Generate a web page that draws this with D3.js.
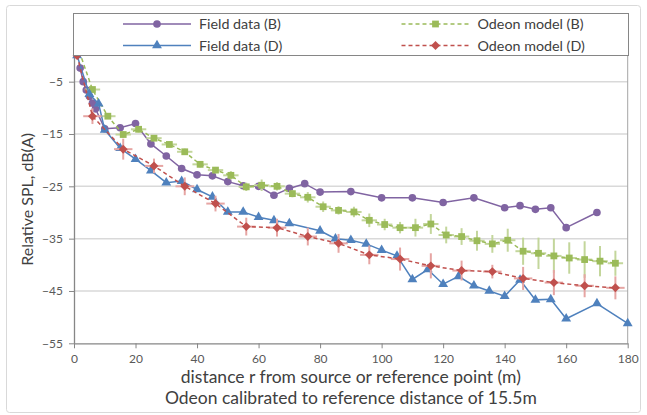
<!DOCTYPE html>
<html lang="en">
<head>
  <meta charset="UTF-8">
  <title>Relative SPL vs distance</title>
  <script src="https://d3js.org/d3.v7.min.js"></script>
  <style type="text/css">
    body { margin: 0; background: #fff; }
    text { font-family: Lato, "Open Sans", sans-serif; }
  </style>
</head>
<body>
<svg id="grafico"></svg>

<script>
  // Data (x = distance in m, y = relative SPL in dB(A))
  const fieldB_x = [2, 3, 4, 5, 6, 7, 10, 15, 20, 25, 30, 35, 40, 45, 50, 55, 60, 65, 70, 75, 80, 90, 100, 110, 120, 130, 140, 145, 150, 155, 160, 170];
  const fieldB_y = [-2.4, -5.0, -6.6, -7.8, -9.1, -10.2, -14.0, -13.8, -13.0, -16.9, -19.2, -21.6, -22.8, -23.0, -24.1, -24.9, -25.0, -26.7, -25.4, -24.5, -26.1, -26.0, -27.2, -27.2, -28.1, -27.2, -29.1, -28.7, -29.4, -29.1, -32.9, -30.0];

  const fieldD_x = [1, 5, 8, 10, 15, 20, 25, 30, 35, 40, 45, 50, 55, 60, 65, 70, 80, 85, 90, 95, 100, 105, 110, 115, 120, 125, 130, 135, 140, 145, 150, 155, 160, 170, 180];
  const fieldD_y = [0, -7.4, -9.2, -14.2, -17.7, -19.8, -22.0, -24.3, -24.0, -25.6, -27.0, -29.9, -29.9, -30.9, -31.5, -32.1, -33.5, -35.0, -35.3, -36.0, -37.2, -38.3, -42.8, -40.9, -43.7, -42.2, -44.0, -45.0, -46.0, -42.9, -46.7, -46.6, -50.3, -47.4, -51.2];

  const odeonB_x = [1, 6, 11, 16, 21, 26, 31, 36, 41, 46, 51, 56, 61, 66, 71, 76, 81, 86, 91, 96, 101, 106, 111, 116, 121, 126, 131, 136, 141, 146, 151, 156, 161, 166, 171, 176];
  const odeonB_y = [2, -6.5, -11.6, -15.1, -14.1, -15.8, -17.0, -18.4, -20.8, -21.9, -22.9, -25.1, -24.8, -25.0, -26.4, -27.1, -28.9, -29.6, -29.9, -31.5, -32.3, -32.9, -32.9, -32.2, -34.3, -34.6, -35.4, -36.0, -35.3, -37.4, -37.8, -38.3, -38.7, -39.0, -39.3, -39.7];
  const odeonB_err = [0, 0.5, 0.5, 0.6, 0.6, 0.6, 0.6, 0.6, 0.6, 0.6, 0.8, 0.8, 1.1, 0.8, 0.7, 1.0, 1.0, 0.8, 1.0, 1.3, 1.1, 1.1, 1.7, 1.9, 1.6, 1.6, 1.9, 1.7, 2.2, 2.6, 3.0, 3.3, 3.0, 3.5, 2.9, 2.4];

  const odeonD_x = [1, 6, 16, 26, 36, 46, 56, 66, 76, 86, 96, 106, 116, 126, 136, 146, 156, 166, 176];
  const odeonD_y = [0, -11.6, -17.9, -21.1, -25.0, -28.3, -32.7, -32.9, -34.6, -35.9, -38.1, -38.9, -40.2, -41.1, -41.3, -42.6, -43.4, -44.0, -44.4];
  const odeonD_err = [0, 1.5, 2.0, 1.4, 1.7, 1.5, 1.7, 1.7, 1.7, 1.8, 1.8, 2.2, 2.4, 1.9, 1.3, 2.2, 2.4, 2.2, 2.2];

  // horizontal error (m) of the model points
  const odeonB_xErr = 2.5;
  const odeonD_xErr = 3;

  const xTicks = [0, 20, 40, 60, 80, 100, 120, 140, 160, 180];
  const yTicks = [-55, -45, -35, -25, -15, -5];

  // Dimensions
  const largura = 647;
  const altura = 415;
  const margem = { topo: 55.5, direita: 19.3, inferior: 71.7, esquerda: 74 };
  const larguraInterna = largura - margem.esquerda - margem.direita;
  const alturaInterna = altura - margem.topo - margem.inferior;

  const svg = d3.select("#grafico")
      .attr("width", largura)
      .attr("height", altura);

  // outer chart border
  svg.append("rect")
      .attr("x", 6.5).attr("y", 5.5)
      .attr("width", 634).attr("height", 407)
      .attr("rx", 3)
      .attr("fill", "#fff")
      .attr("stroke", "#d9d9d9");

  const g = svg.append("g")
      .attr("transform", `translate(${margem.esquerda}, ${margem.topo})`);

  const escalaX = d3.scaleLinear().domain([0, 180]).range([0, larguraInterna]);
  const escalaY = d3.scaleLinear().domain([-55, 0]).range([alturaInterna, 0]);

  // gridlines
  g.selectAll(".grade")
      .data(yTicks.slice(1))
      .enter().append("line")
      .attr("x1", 0).attr("x2", larguraInterna)
      .attr("y1", d => escalaY(d)).attr("y2", d => escalaY(d))
      .attr("stroke", "#d9d9d9")
      .attr("stroke-width", 1.5);

  // right border of plot area
  g.append("line")
      .attr("x1", larguraInterna).attr("x2", larguraInterna)
      .attr("y1", 0).attr("y2", alturaInterna)
      .attr("stroke", "#a6a6a6");

  // axes
  const eixoX = g.append("g")
      .attr("transform", `translate(0, ${alturaInterna})`)
      .call(d3.axisBottom(escalaX).tickValues(xTicks).tickSize(5).tickSizeOuter(0).tickPadding(6));
  const eixoY = g.append("g")
      .call(d3.axisLeft(escalaY).tickValues(yTicks).tickSize(5).tickSizeOuter(0).tickPadding(6));

  [eixoX, eixoY].forEach(function(e) {
    e.select(".domain").attr("stroke", "#868686").attr("stroke-width", 1.3);
    e.selectAll(".tick line").attr("stroke", "#868686");
    e.selectAll(".tick text")
        .attr("fill", "#595959")
        .style("font-size", "12px")
        .style("font-family", "Lato, sans-serif");
  });

  // axis titles
  g.append("text")
      .attr("x", larguraInterna / 2).attr("y", alturaInterna + 40)
      .attr("text-anchor", "middle")
      .attr("fill", "#404040")
      .style("font-size", "17.5px")
      .text("distance r from source or reference point (m)");
  g.append("text")
      .attr("x", larguraInterna / 2).attr("y", alturaInterna + 61)
      .attr("text-anchor", "middle")
      .attr("fill", "#404040")
      .style("font-size", "17.5px")
      .text("Odeon calibrated to reference distance of 15.5m");
  svg.append("text")
      .attr("transform", `translate(33, ${margem.topo + alturaInterna / 2}) rotate(-90)`)
      .attr("text-anchor", "middle")
      .attr("fill", "#404040")
      .style("font-size", "16px")
      .text("Relative SPL, dB(A)");

  // series
  const series = [
    { nome: "Field data (B)", xs: fieldB_x, ys: fieldB_y, cor: "#8064a2", simbolo: d3.symbolCircle, tam: 46, rot: 0, dash: null },
    { nome: "Odeon model (B)", xs: odeonB_x, ys: odeonB_y, err: odeonB_err, xErr: odeonB_xErr, cor: "#9bbb59", corErr: "#c3d69b", simbolo: d3.symbolSquare, tam: 46, rot: 0, dash: "4,3" },
    { nome: "Field data (D)", xs: fieldD_x, ys: fieldD_y, cor: "#4f81bd", simbolo: d3.symbolTriangle, tam: 42, rot: 0, dash: null },
    { nome: "Odeon model (D)", xs: odeonD_x, ys: odeonD_y, err: odeonD_err, xErr: odeonD_xErr, cor: "#c0504d", corErr: "#e6a5a3", simbolo: d3.symbolSquare, tam: 40, rot: 45, dash: "4,3" }
  ];

  const linha = d3.line()
      .x(d => escalaX(d[0]))
      .y(d => escalaY(d[1]));

  series.forEach(function(s) {
    const pontos = s.xs.map((x, i) => [x, s.ys[i], s.err ? s.err[i] : 0]);

    // error bars
    if (s.err) {
      const eb = g.append("g").attr("stroke", s.corErr).attr("stroke-width", 2);
      eb.selectAll(".ev").data(pontos.filter(p => p[2] > 0)).enter().append("line")
          .attr("x1", d => escalaX(d[0])).attr("x2", d => escalaX(d[0]))
          .attr("y1", d => escalaY(d[1] - d[2])).attr("y2", d => escalaY(d[1] + d[2]));
      eb.selectAll(".eh").data(pontos.slice(1)).enter().append("line")
          .attr("x1", d => escalaX(d[0] - s.xErr)).attr("x2", d => escalaX(d[0] + s.xErr))
          .attr("y1", d => escalaY(d[1])).attr("y2", d => escalaY(d[1]));
    }

    g.append("path")
        .datum(pontos)
        .attr("d", linha)
        .attr("fill", "none")
        .attr("stroke", s.cor)
        .attr("stroke-width", 1.5)
        .attr("stroke-dasharray", s.dash);

    g.selectAll(null).data(pontos).enter().append("path")
        .attr("d", d3.symbol().type(s.simbolo).size(s.tam))
        .attr("transform", d => `translate(${escalaX(d[0])}, ${escalaY(d[1])}) rotate(${s.rot})`)
        .attr("fill", s.cor);
  });

  // legend
  const leg = svg.append("g");
  leg.append("rect")
      .attr("x", 73.5).attr("y", 13.5)
      .attr("width", 555).attr("height", 42)
      .attr("fill", "#fff")
      .attr("stroke", "#868686");

  const posLegenda = [[123, 24], [401.5, 24], [123, 45.5], [401.5, 45.5]];
  series.forEach(function(s, i) {
    const [lx, ly] = posLegenda[i];
    leg.append("line")
        .attr("x1", lx).attr("x2", lx + 68)
        .attr("y1", ly).attr("y2", ly)
        .attr("stroke", s.cor)
        .attr("stroke-width", 1.5)
        .attr("stroke-dasharray", s.dash);
    leg.append("path")
        .attr("d", d3.symbol().type(s.simbolo).size(s.tam))
        .attr("transform", `translate(${lx + 34}, ${ly}) rotate(${s.rot})`)
        .attr("fill", s.cor);
    leg.append("text")
        .attr("x", lx + 76).attr("y", ly + 5)
        .attr("fill", "#404040")
        .style("font-size", "14.3px")
        .text(s.nome);
  });
</script>
</body>
</html>
